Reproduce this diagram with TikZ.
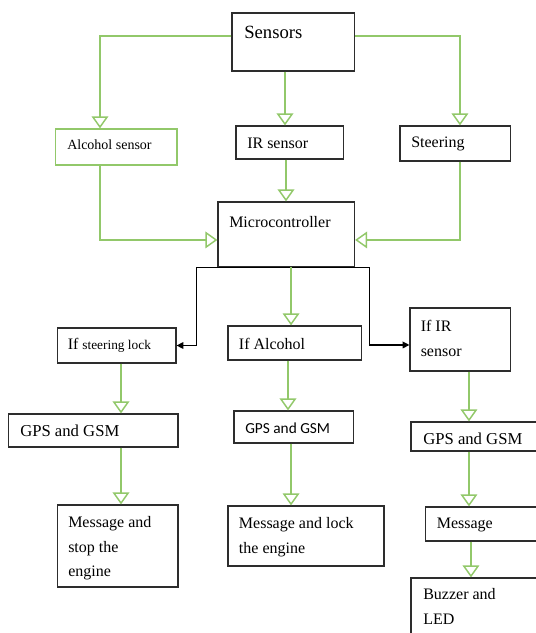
\documentclass[tikz,border=0pt]{standalone}
\usepackage{fontspec}
\setmainfont{Liberation Serif}
\newfontfamily\calibrifont{Carlito}
\usetikzlibrary{positioning}
\usetikzlibrary{arrows.meta}
\usetikzlibrary{calc}
\usetikzlibrary{fit}
\definecolor{linegreen}{RGB}{146,200,106}
\definecolor{boxgrey}{RGB}{45,45,45}

\begin{document}
\begin{tikzpicture}[
  x=0.75pt, y=-0.75pt,
  font=\fontsize{12}{18.4}\selectfont,
  box/.style={draw=boxgrey, line width=0.9pt, inner sep=0pt},
  gbox/.style={draw=linegreen, line width=1pt, inner sep=0pt},
  txt/.style={anchor=base west, inner sep=0pt, align=left},
  arrow/.style={draw=linegreen, line width=1.1pt, -{Triangle[open, length=9pt, width=12.5pt]}},
  barrow/.style={draw=black, line width=0.8pt, -{Triangle[length=5pt, width=5pt]}}
]
\useasboundingbox (0,0) rectangle (536,633);
\clip (0,0) rectangle (536,633);

% Sensor level
\node[box, fit={(232,13) (354.5,71)}] (sensors) {};
\node[gbox, fit={(55.5,129) (177,165)}] (alc) {};
\node[box, fit={(236,126) (343.5,159)}] (ir) {};
\node[box, fit={(400,126) (510.6,161)}] (steer) {};
\node[box, fit={(218,202) (354.5,266.7)}] (micro) {};

\node[txt, font=\fontsize{14}{16}\selectfont] (sensorsT) at (244,38) {Sensors};
\node[txt, font=\fontsize{10.5}{12}\selectfont] (alcT) at (67,149) {Alcohol sensor};
\node[txt] (irT) at (247,148) {IR sensor};
\node[txt] (steerT) at (411,147) {Steering};
\node[txt] (microT) at (229,227) {Microcontroller};

% Decision level
\node[box, fit={(57.5,328) (176,363)}] (ifsteer) {};
\node[box, fit={(228,326) (361.6,360)}] (ifalc) {};
\node[box, fit={(410,308) (510.6,371)}] (ifir) {};

% base of a two-line text sits on its last line
\node[txt] (ifsteerT) at (67.5,349) {If {\fontsize{10}{12}\selectfont steering lock}};
\node[txt] (ifalcT) at (238.7,349) {If Alcohol};
\node[txt] (ifirT) at (420.5,356.2) {If IR\\sensor};

% GPS and GSM level
\node[box, fit={(8.6,414) (178,447)}] (gps1) {};
\node[box, fit={(234,411) (353.4,443)}] (gps2) {};
\node[box, fit={(411,422) (560,451)}] (gps3) {};

\node[txt, font=\fontsize{12.5}{14}\selectfont] (gps1T) at (20,436) {GPS and GSM};
\node[txt, font=\calibrifont\fontsize{11.5}{14}\selectfont] (gps2T) at (245,433) {GPS and GSM};
\node[txt, font=\fontsize{12.5}{14}\selectfont] (gps3T) at (423,444) {GPS and GSM};

% Output level
\node[box, fit={(57.5,505) (178,587)}] (msg1) {};
\node[box, fit={(228,506) (384,566)}] (msg2) {};
\node[box, fit={(425.7,507) (560,541)}] (msg3) {};
\node[box, fit={(411,578) (560,660)}] (buzz) {};

\node[txt] (msg1T) at (68,576.8) {Message and\\stop the\\engine};
\node[txt] (msg2T) at (238.7,553.2) {Message and lock\\the engine};
\node[txt] (msg3T) at (436.6,528) {Message};
\node[txt] (buzzT) at (423,624.5) {Buzzer and\\LED};

% Sensors to sensor boxes
\draw[arrow] ([yshift=4.5pt]sensors.west) -| ([xshift=-12.19pt]alc.north);
\draw[arrow] ([xshift=-6.19pt]sensors.south) -- ([xshift=-6.19pt]sensors.south |- ir.north);
\draw[arrow] ([yshift=4.5pt]sensors.east) -| ([xshift=3.5pt]steer.north);

% Sensor boxes to microcontroller
\draw[arrow] ([xshift=-12.19pt]alc.south) |- ([yshift=-4.2pt]micro.west);
\draw[arrow] ([xshift=-2.81pt]ir.south) -- ([xshift=-2.81pt]ir.south |- micro.north);
\draw[arrow] ([xshift=3.5pt]steer.south) |- ([yshift=-4.2pt]micro.east);

% Microcontroller to decisions
\draw[barrow] (micro.south) -- ([xshift=-15.75pt]micro.south west) |- (ifsteer.east);
\draw[barrow] (micro.south) -- ([xshift=10.9pt]micro.south east) |- ([yshift=-4.1pt]ifir.west);
\draw[arrow] ([xshift=3.6pt]micro.south) -- ([xshift=3.6pt]micro.south |- ifalc.north);

% Left column
\draw[arrow] ([xshift=3.19pt]ifsteer.south) -- ([xshift=3.19pt]ifsteer.south |- gps1.north);
\draw[arrow] ([xshift=3.19pt]ifsteer.south |- gps1.south) -- ([xshift=3.19pt]ifsteer.south |- msg1.north);

% Middle column
\draw[arrow] ([xshift=-5.1pt]ifalc.south) -- ([xshift=-5.1pt]ifalc.south |- gps2.north);
\draw[arrow] ([xshift=-2pt]gps2.south) -- ([xshift=-2pt]gps2.south |- msg2.north);

% Right column
\draw[arrow] ([xshift=6.5pt]ifir.south) -- ([xshift=6.5pt]ifir.south |- gps3.north);
\draw[arrow] ([xshift=6.5pt]ifir.south |- gps3.south) -- ([xshift=6.5pt]ifir.south |- msg3.north);
\draw[arrow] ([xshift=8pt]ifir.south |- msg3.south) -- ([xshift=8pt]ifir.south |- buzz.north);

\end{tikzpicture}
\end{document}
